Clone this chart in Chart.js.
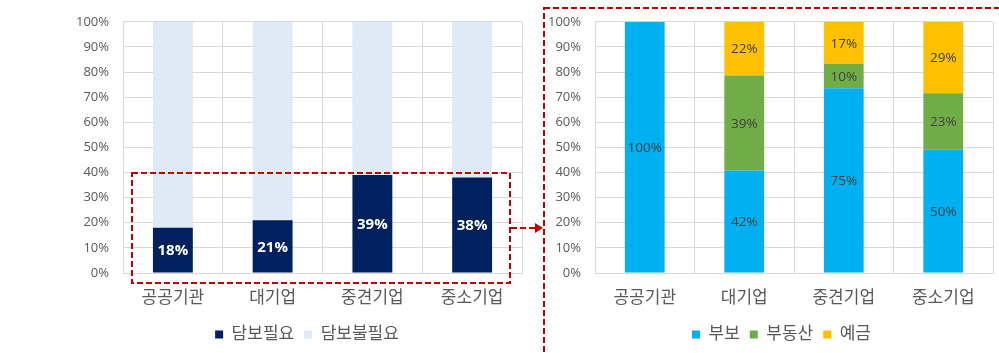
<!DOCTYPE html>
<html lang="ko">
<head>
<meta charset="utf-8">
<script src="https://cdn.jsdelivr.net/npm/chart.js@4/dist/chart.umd.min.js"></script>
<style>
    html, body { margin: 0; padding: 0; background: #ffffff; }
    #wrap { position: relative; width: 999px; height: 353px; overflow: hidden; }
    #leftBox { position: absolute; left: 0; top: 0; width: 540px; height: 353px; }
    #rightBox { position: absolute; left: 540px; top: 0; width: 459px; height: 353px; }
    #marks { position: absolute; left: 0; top: 0; }
</style>
</head>
<body>
<div id="wrap">
    <div id="leftBox"><canvas id="leftChart"></canvas></div>
    <div id="rightBox"><canvas id="rightChart"></canvas></div>
    <svg id="marks" width="999" height="353">
        <rect x="132" y="173" width="378" height="110" fill="none" stroke="#c00000" stroke-width="2" stroke-dasharray="6 3"></rect>
        <line x1="511" y1="228" x2="536" y2="228" stroke="#c00000" stroke-width="2" stroke-dasharray="6 3"></line>
        <polygon points="535,223 543,228 535,233" fill="#c00000"></polygon>
        <rect x="544" y="8" width="600" height="400" fill="none" stroke="#c00000" stroke-width="2" stroke-dasharray="6 3"></rect>
    </svg>
</div>
<script>
const categories = ["공공기관", "대기업", "중견기업", "중소기업"];

// 왼쪽: 담보 필요 여부
const leftNames = ["담보필요", "담보불필요"];
const collateralNeeded = [18, 21, 39, 38];
const collateralNotNeeded = [82, 79, 61, 62];

// 오른쪽: 담보 종류 (라벨 값 그대로, 100% 누적으로 환산)
const rightNames = ["부보", "부동산", "예금"];
const guarantee = [100, 42, 75, 50];
const realEstate = [0, 39, 10, 23];
const deposit = [0, 22, 17, 29];

const yMin = 0;
const yMax = 100;
const yStep = 10;

const FONT = "\"Open Sans\", \"Noto Sans CJK KR\", sans-serif";
const GRID = "#d9d9d9";
const TEXT = "#595959";

Chart.defaults.font.family = FONT;
Chart.defaults.color = TEXT;

// 막대 가운데 값 라벨
const barLabels = {
    id: "barLabels",
    afterDatasetsDraw(chart) {
        const ctx = chart.ctx;
        chart.data.datasets.forEach(function (ds, i) {
            if (!ds.valueLabels) return;
            const meta = chart.getDatasetMeta(i);
            meta.data.forEach(function (bar, j) {
                const txt = ds.valueLabels[j];
                if (!txt) return;
                ctx.save();
                ctx.fillStyle = ds.labelColor;
                ctx.font = ds.labelFont;
                ctx.textAlign = "center";
                ctx.textBaseline = "middle";
                ctx.fillText(txt, bar.x, (bar.y + bar.base) / 2 + 1);
                ctx.restore();
            });
        });
    }
};

// 범례를 가로로 조금 옮김 (엑셀 배치에 맞춤)
const legendShift = {
    id: "legendShift",
    afterLayout(chart, args, opts) {
        if (!chart.legend) return;
        chart.legend.left += opts.dx;
        chart.legend.right += opts.dx;
    }
};

function percentOfTotal(series, all) {
    return series.map(function (v, i) {
        let total = 0;
        all.forEach(function (s) { total += s[i]; });
        return v / total * 100;
    });
}

function labelsOf(series) {
    return series.map(function (v) { return v > 0 ? v + "%" : ""; });
}

function makeOptions(pad, yWidth, dx) {
    return {
        responsive: true,
        maintainAspectRatio: false,
        animation: false,
        layout: { padding: pad },
        scales: {
            x: {
                stacked: true,
                grid: { color: GRID, offset: true, drawTicks: false },
                border: { color: GRID },
                ticks: { font: { size: 17 }, color: TEXT, padding: 15 },
                afterFit: function (scale) { scale.height = 43; }
            },
            y: {
                stacked: true,
                min: yMin,
                max: yMax,
                grid: { color: GRID, drawTicks: false },
                border: { display: false },
                ticks: {
                    stepSize: yStep,
                    font: { size: 13 },
                    color: TEXT,
                    padding: 14,
                    callback: function (v) { return v + "%"; }
                },
                afterFit: function (scale) { scale.width = yWidth; }
            }
        },
        plugins: {
            tooltip: { enabled: false },
            legendShift: { dx: dx },
            legend: {
                position: "bottom",
                labels: {
                    boxWidth: 8,
                    boxHeight: 8,
                    padding: 10,
                    color: TEXT,
                    font: { size: 17 }
                }
            }
        }
    };
}

function leftChart() {
    const ctx = document.getElementById("leftChart").getContext("2d");
    new Chart(ctx, {
        type: "bar",
        data: {
            labels: categories,
            datasets: [{
                label: leftNames[0],
                data: collateralNeeded,
                backgroundColor: "#002060",
                borderWidth: 0,
                barPercentage: 0.4,
                categoryPercentage: 1,
                valueLabels: labelsOf(collateralNeeded),
                labelColor: "#ffffff",
                labelFont: "bold 15px " + FONT
            }, {
                label: leftNames[1],
                data: collateralNotNeeded,
                backgroundColor: "#deeaf6",
                borderWidth: 0,
                barPercentage: 0.4,
                categoryPercentage: 1
            }]
        },
        options: makeOptions({ top: 17, left: 0, right: 18, bottom: 0 }, 123, 46),
        plugins: [barLabels, legendShift]
    });
}

function rightChart() {
    const ctx = document.getElementById("rightChart").getContext("2d");
    const all = [guarantee, realEstate, deposit];
    const colors = ["#00b0f0", "#70ad47", "#ffc000"];
    const datasets = all.map(function (s, i) {
        return {
            label: rightNames[i],
            data: percentOfTotal(s, all),
            backgroundColor: colors[i],
            borderWidth: 0,
            barPercentage: 0.4,
            categoryPercentage: 1,
            valueLabels: labelsOf(s),
            labelColor: "#404040",
            labelFont: "13.5px " + FONT
        };
    });
    new Chart(ctx, {
        type: "bar",
        data: { labels: categories, datasets: datasets },
        options: makeOptions({ top: 17, left: 0, right: 6, bottom: 0 }, 55, 15),
        plugins: [barLabels, legendShift]
    });
}

leftChart();
rightChart();
</script>
</body>
</html>
